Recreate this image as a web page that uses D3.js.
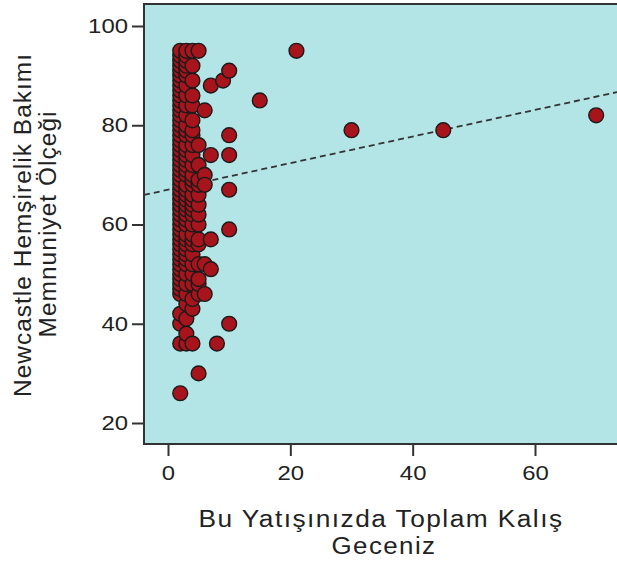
<!DOCTYPE html>
<html><head><meta charset="utf-8">
<script src="https://cdn.jsdelivr.net/npm/d3@7/dist/d3.min.js"></script>
<style>body{margin:0;background:#fff;} svg{display:block;font-family:"Liberation Sans",Arial,sans-serif;}</style>
</head><body>
<script>
// Data: x = total nights stayed, y = Newcastle satisfaction score
const col2 = [26,36,40,42,46,47,48,49,50,51,52,53,54,55,56,57,58,59,60,61,62,63,64,65,66,67,68,69,70,71,72,73,74,75,76,77,78,79,80,81,82,83,84,85,86,87,88,89,90,91,92,93,94,95];
const col3 = [36,38,41,44,46,48,50,52,53,54,55,56,57,58,60,61,62,63,64,65,66,67,68,70,71,72,73,74,75,76,78,79,80,82,84,86,88,90,91,92,93,94,95];
const col4 = [36,43,45,48,50,52,54,56,57,58,60,62,63,64,65,66,68,69,70,72,74,76,78,79,81,84,86,89,92,95];
const col5 = [30,46,48,49,52,56,57,60,62,64,66,68,69,72,76,95];
const otherX = [6,7,9,10,10,7,10,6,6,10,10,7,6,7,6,10,8,15,21,30,45,70];
const otherY = [83,88,89,91,78,74,74,70,68,67,59,57,52,51,46,40,36,85,95,79,79,82];
const xTicks = [0,20,40,60];
const yTicks = [20,40,60,80,100];
const fitIntercept = 67.0, fitSlope = 0.268;

const points = [];
col2.forEach(v=>points.push([2,v]));
col3.forEach(v=>points.push([3,v]));
col4.forEach(v=>points.push([4,v]));
col5.forEach(v=>points.push([5,v]));
otherX.forEach((v,i)=>points.push([v,otherY[i]]));

const W=617,H=565;
const svg=d3.select("body").append("svg").attr("width",W).attr("height",H);
const x=d3.scaleLinear().domain([0,60]).range([168,535]);
const y=d3.scaleLinear().domain([20,100]).range([423,26]);
const pL=144, pT=4, pB=444, pR=640;

svg.append("defs").append("clipPath").attr("id","clip")
  .append("rect").attr("x",pL).attr("y",pT).attr("width",pR-pL).attr("height",pB-pT);

svg.append("rect").attr("x",pL).attr("y",pT).attr("width",pR-pL).attr("height",pB-pT)
  .attr("fill","#b3e5e6").attr("stroke","#333").attr("stroke-width",2);

const g=svg.append("g").attr("clip-path","url(#clip)");
const x0=x.invert(pL), x1=x.invert(pR);
g.append("line").attr("x1",x(x0)).attr("y1",y(fitIntercept+fitSlope*x0))
  .attr("x2",x(x1)).attr("y2",y(fitIntercept+fitSlope*x1))
  .attr("stroke","#333").attr("stroke-width",1.8).attr("stroke-dasharray","6,4");

g.selectAll("circle").data(points).join("circle")
  .attr("cx",d=>x(d[0])).attr("cy",d=>y(d[1])).attr("r",7.4)
  .attr("fill","#a8141c").attr("stroke","#1a1a1a").attr("stroke-width",1.4);

// axes
const xa=svg.append("g").attr("transform",`translate(0,${pB})`)
  .call(d3.axisBottom(x).tickValues(xTicks).tickSize(12).tickPadding(10).tickFormat(d3.format("d")));
const ya=svg.append("g").attr("transform",`translate(${pL},0)`)
  .call(d3.axisLeft(y).tickValues(yTicks).tickSize(12).tickPadding(4).tickFormat(d3.format("d")));
[xa,ya].forEach(a=>{
  a.select(".domain").remove();
  a.selectAll(".tick line").attr("stroke","#333").attr("stroke-width",2);
  a.selectAll(".tick text").attr("font-size",19.5).attr("fill","#222")
    .attr("font-family","Liberation Sans, Arial, sans-serif")
    .attr("textLength",d=>String(d).length*13.3).attr("lengthAdjust","spacingAndGlyphs");
});

// titles
const xt=svg.append("text").attr("text-anchor","middle").attr("font-size",23.5).attr("fill","#222").attr("letter-spacing","1.3px");
xt.append("tspan").attr("x",381).attr("y",527).attr("textLength",365).attr("lengthAdjust","spacingAndGlyphs").text("Bu Yatışınızda Toplam Kalış");
xt.append("tspan").attr("x",384).attr("y",554).attr("textLength",105).attr("lengthAdjust","spacingAndGlyphs").text("Geceniz");

const yt=svg.append("text").attr("transform","translate(0,225) rotate(-90)").attr("text-anchor","middle").attr("font-size",23.5).attr("fill","#222").attr("letter-spacing","1px");
yt.append("tspan").attr("x",0).attr("y",31).attr("textLength",344).attr("lengthAdjust","spacingAndGlyphs").text("Newcastle Hemşirelik Bakımı");
yt.append("tspan").attr("x",1).attr("y",56).attr("textLength",227).attr("lengthAdjust","spacingAndGlyphs").text("Memnuniyet Ölçeği");
</script>
</body></html>
